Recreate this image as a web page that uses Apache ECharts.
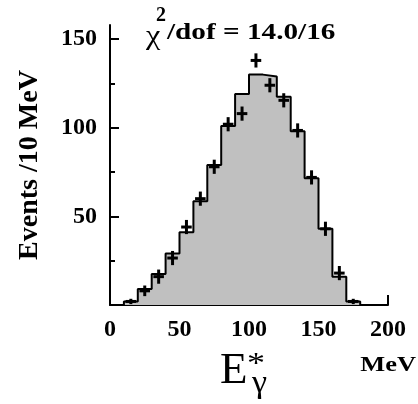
<!DOCTYPE html>
<html><head><meta charset="utf-8">
<script src="https://cdn.jsdelivr.net/npm/echarts@6/dist/echarts.min.js"></script>
<style>html,body{margin:0;padding:0;background:#fff}#c{width:418px;height:404px}</style>
</head><body><div id="c"></div>
<script>
// Histogram (fit): bin lower edges (MeV) and bin contents
const binStarts = [10,20,30,40,50,60,70,80,90,100,110,120,130,140,150,160,170];
const binWidth = 10;
const histCounts = [2,9,17.5,29,41,58.5,79,101,119,130,129,117.5,98,71.5,43,16,2];
// Data points: bin centres, counts, vertical error half-length
const dataCenters = [15,25,35,45,55,65,75,85,95,105,115,125,135,145,155,165,175];
const dataCounts = [2,8,16,26.5,44,60,78,102,108,138,124,115.5,98.5,72,43,18,2];
const dataErrors = [1.5,3,4,4,4,4,4,4,4,4,4,4,4,4,4,4,1.5];
// Axis ticks
const yTickValues = [50,100,150];
const yMinorTickValues = [25,75,125];
const xTickValues = [0,50,100,150,200];

const serif = "'Liberation Serif','Times New Roman',serif";

const histLine = [[binStarts[0], 0]]
  .concat(binStarts.map((x, i) => [x, histCounts[i]]))
  .concat([[binStarts[binStarts.length - 1] + binWidth, 0]]);
const crossData = dataCenters.map((x, i) => [x, dataCounts[i], dataErrors[i]]);

const chart = echarts.init(document.getElementById('c'), null, {renderer: 'canvas'});
chart.setOption({
  animation: false,
  backgroundColor: '#fff',
  grid: {left: 110, right: 30, top: 25, bottom: 99, containLabel: false},
  xAxis: {
    type: 'value', min: 0, max: 200, interval: 50,
    axisLine: {show: true, lineStyle: {color: '#000', width: 2}},
    axisTick: {show: true, inside: true, length: 10, lineStyle: {color: '#000', width: 2}},
    minorTick: {show: true, splitNumber: 2, length: 5, lineStyle: {color: '#000', width: 2}},
    axisLabel: {color: '#000', fontFamily: serif, fontWeight: 'bold', fontSize: 24, margin: 13,
      customValues: xTickValues},
    splitLine: {show: false}, minorSplitLine: {show: false}
  },
  yAxis: [{
    type: 'value', min: 0, max: 158, interval: 50,
    axisLine: {show: true, lineStyle: {color: '#000', width: 2}},
    axisTick: {show: true, inside: true, length: 9, customValues: yTickValues, lineStyle: {color: '#000', width: 2}},
    axisLabel: {color: '#000', fontFamily: serif, fontWeight: 'bold', fontSize: 24, margin: 13,
      customValues: yTickValues},
    splitLine: {show: false},
    name: 'Events /10 MeV', nameLocation: 'middle', nameGap: 66,
    nameTextStyle: {color: '#000', fontFamily: serif, fontWeight: 'bold', fontSize: 28}
  }, {
    type: 'value', min: 0, max: 158, position: 'left',
    axisLine: {show: false},
    axisTick: {show: true, inside: true, length: 5, customValues: yMinorTickValues, lineStyle: {color: '#000', width: 2}},
    axisLabel: {show: false},
    splitLine: {show: false}
  }],
  series: [{
    type: 'line', step: 'end', data: histLine, symbol: 'none',
    lineStyle: {color: '#000', width: 2},
    areaStyle: {color: '#c0c0c0', opacity: 1},
    z: 2
  }, {
    type: 'custom', data: crossData, z: 3,
    encode: {x: 0, y: 1},
    renderItem: function (params, api) {
      const x = api.value(0), y = api.value(1), e = api.value(2);
      const l = api.coord([x - 3.8, y]), r = api.coord([x + 3.8, y]);
      const t = api.coord([x, y + e]), b = api.coord([x, y - e]);
      const st = {stroke: '#000', lineWidth: 3};
      return {type: 'group', children: [
        {type: 'line', shape: {x1: l[0], y1: l[1], x2: r[0], y2: r[1]}, style: st},
        {type: 'line', shape: {x1: t[0], y1: t[1], x2: b[0], y2: b[1]}, style: st}
      ]};
    }
  }],
  graphic: [
    {type: 'text', x: 146, y: 37, scaleX: 1.2, style: {text: '\u03c7', font: 'normal 27px ' + serif, fill: '#000', textAlign: 'left', textVerticalAlign: 'middle'}},
    {type: 'text', x: 156, y: 16, style: {text: '2', font: 'bold 20px ' + serif, fill: '#000', textAlign: 'left', textVerticalAlign: 'middle'}},
    {type: 'text', x: 167, y: 33, scaleX: 1.27, style: {text: '/dof = 14.0/16', font: 'bold 23px ' + serif, fill: '#000', textAlign: 'left', textVerticalAlign: 'middle'}},
    {type: 'text', x: 220, y: 371, style: {text: 'E', font: 'normal 45px ' + serif, fill: '#000', textAlign: 'left', textVerticalAlign: 'middle'}},
    {type: 'text', x: 247, y: 364, scaleX: 1.2, style: {text: '*', font: 'normal 30px ' + serif, fill: '#000', textAlign: 'left', textVerticalAlign: 'middle'}},
    {type: 'text', x: 252, y: 384, scaleX: 1.1, style: {text: '\u03b3', font: 'normal 31px ' + serif, fill: '#000', textAlign: 'left', textVerticalAlign: 'middle'}},
    {type: 'text', x: 416, y: 365, scaleX: 1.2, style: {text: 'MeV', font: 'bold 22px ' + serif, fill: '#000', textAlign: 'right', textVerticalAlign: 'middle'}}
  ]
});
</script></body></html>
